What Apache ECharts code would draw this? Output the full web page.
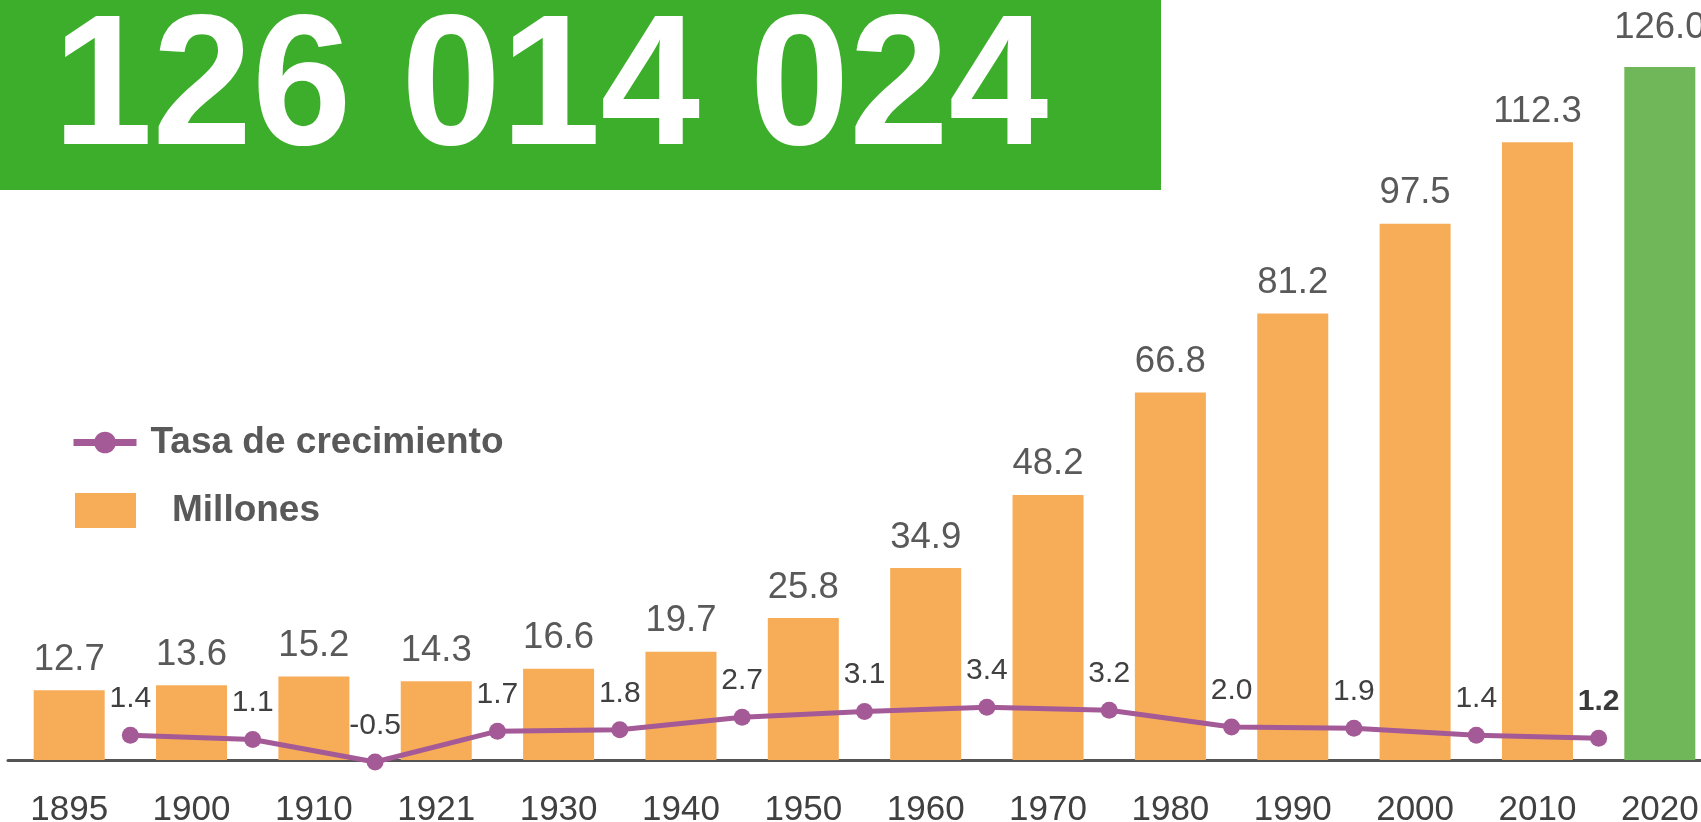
<!DOCTYPE html>
<html>
<head>
<meta charset="utf-8">
<script src="https://cdn.jsdelivr.net/npm/echarts@6/dist/echarts.min.js"></script>
<style>
html,body{margin:0;padding:0;background:#fff;}
#c{width:1701px;height:822px;}
</style>
</head>
<body>
<div id="c"></div>
<script>
// ---- data ----
const bannerText = '126 014 024';
const years = ['1895','1900','1910','1921','1930','1940','1950','1960','1970','1980','1990','2000','2010','2020'];
const millones = [12.7, 13.6, 15.2, 14.3, 16.6, 19.7, 25.8, 34.9, 48.2, 66.8, 81.2, 97.5, 112.3, 126.0];
const tasa = [1.4, 1.1, -0.5, 1.7, 1.8, 2.7, 3.1, 3.4, 3.2, 2.0, 1.9, 1.4, 1.2];
const seriesNames = ['Tasa de crecimiento', 'Millones'];

const ORANGE = '#F7AC58';
const GREEN_BAR = '#6FB758';
const PURPLE = '#A45A96';
const FONT = '"Liberation Sans", Arial, sans-serif';

const barData = millones.map((v, i) => {
  const item = { value: v };
  if (i === millones.length - 1) {
    item.itemStyle = { color: GREEN_BAR };
    item.label = { distance: 21 };
  }
  return item;
});

// each rate sits on the boundary between two consecutive census categories
const tasaData = tasa.map((v, i) => {
  const item = { value: [i + 1, v] };
  if (i === tasa.length - 1) {
    item.label = { fontWeight: 'bold', color: '#3a3a3a' };
  }
  return item;
});

const chart = echarts.init(document.getElementById('c'), null, { renderer: 'canvas' });
chart.setOption({
  animation: false,
  backgroundColor: '#fff',
  textStyle: { fontFamily: FONT },
  grid: { left: 8, width: 1713, top: 45, bottom: 62, containLabel: false, outerBoundsMode: 'none' },
  xAxis: [
    {
      type: 'category',
      data: years,
      boundaryGap: true,
      axisLine: { show: true, lineStyle: { color: '#555555', width: 3 } },
      axisTick: { show: false },
      axisLabel: { fontSize: 35, color: '#404040', margin: 33, fontFamily: FONT }
    },
    {
      type: 'value',
      min: 0,
      max: years.length,
      show: false
    }
  ],
  yAxis: [
    { type: 'value', min: 0, max: 130, show: false },
    { type: 'value', min: -0.36, max: 50.7, show: false }
  ],
  legend: [
    {
      data: [seriesNames[0]],
      left: 70,
      top: 424,
      padding: 0,
      itemWidth: 63,
      itemHeight: 27,
      lineStyle: { width: 7 },
      textStyle: { fontSize: 37, fontWeight: 'bold', color: '#595959', padding: [2, 0, 0, 9], fontFamily: FONT }
    },
    {
      data: [seriesNames[1]],
      left: 75,
      top: 492,
      padding: 0,
      itemWidth: 61,
      itemHeight: 35,
      icon: 'rect',
      itemStyle: { color: ORANGE },
      textStyle: { fontSize: 37, fontWeight: 'bold', color: '#595959', padding: [10, 0, 0, 31], fontFamily: FONT }
    }
  ],
  graphic: [
    {
      type: 'rect',
      left: 0,
      top: 0,
      shape: { x: 0, y: 0, width: 1161, height: 190 },
      style: { fill: '#3DAE2B' },
      z: 10
    },
    {
      type: 'text',
      x: 53,
      y: 93,
      scaleX: 0.942,
      scaleY: 0.98,
      z: 11,
      style: {
        text: bannerText,
        fill: '#ffffff',
        fontSize: 190,
        fontWeight: 'bold',
        fontFamily: FONT,
        textAlign: 'left',
        textVerticalAlign: 'middle',
        verticalAlign: 'middle'
      }
    }
  ],
  series: [
    {
      name: seriesNames[1],
      type: 'bar',
      xAxisIndex: 0,
      yAxisIndex: 0,
      data: barData,
      barWidth: 71,
      itemStyle: { color: ORANGE },
      label: {
        show: true,
        position: 'top',
        distance: 12,
        fontSize: 36.5,
        color: '#595959',
        fontFamily: FONT,
        formatter: (p) => Number(p.value).toFixed(1)
      },
      z: 2
    },
    {
      name: seriesNames[0],
      type: 'line',
      xAxisIndex: 1,
      yAxisIndex: 1,
      data: tasaData,
      clip: false,
      symbol: 'circle',
      symbolSize: 17,
      lineStyle: { color: PURPLE, width: 5 },
      itemStyle: { color: PURPLE },
      label: {
        show: true,
        position: 'top',
        distance: 13,
        fontSize: 30,
        color: '#404040',
        fontFamily: FONT,
        formatter: (p) => Number(p.value[1]).toFixed(1)
      },
      z: 5
    }
  ]
});
</script>
</body>
</html>
